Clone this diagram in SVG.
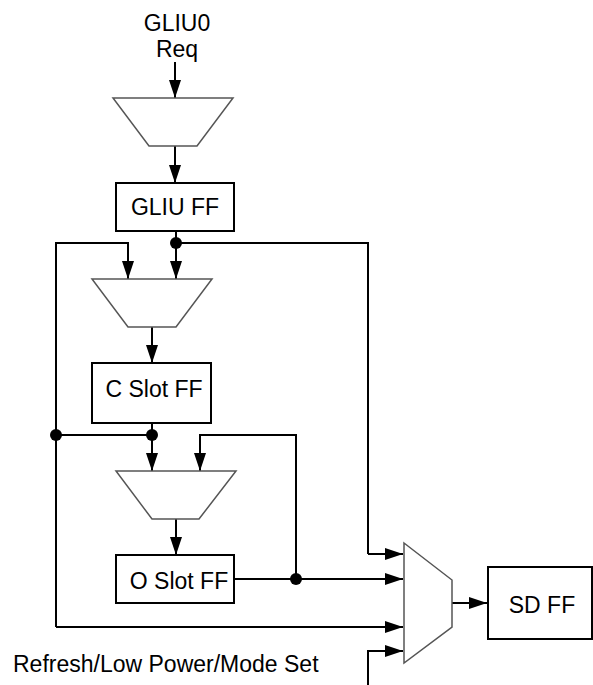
<svg xmlns="http://www.w3.org/2000/svg" width="593" height="685" viewBox="0 0 593 685">
<defs>
<marker id="arr" markerUnits="userSpaceOnUse" markerWidth="18" markerHeight="12" refX="18" refY="6" orient="auto">
<path d="M0,0 L18,6 L0,12 z" fill="#000"/>
</marker>
<style>
text{font-family:"Liberation Sans",Arial,Helvetica,sans-serif;font-size:23px;fill:#000}
.box{fill:#fff;stroke:#000;stroke-width:2}
.mux{fill:#fff;stroke:#555;stroke-width:1.5}
.w{fill:none;stroke:#000;stroke-width:2}
.a{marker-end:url(#arr)}
.dot{fill:#000}
</style>
</defs>
<rect width="593" height="685" fill="#fff"/>
<g id="connectors">
<polyline class="w a" points="175,62 175,98"/>
<polyline class="w a" points="175,146 175,183"/>
<polyline class="w a" points="176,231 176,279"/>
<polyline class="w" points="176,243 368,243 368,554"/>
<polyline class="w a" points="368,554 403,554"/>
<polyline class="w a" points="56,627 56,243 128,243 128,279"/>
<polyline class="w a" points="56,627 403,627"/>
<polyline class="w a" points="152,327 152,363"/>
<polyline class="w a" points="152,423 152,471"/>
<polyline class="w" points="56,435 152,435"/>
<polyline class="w a" points="296,579 296,435 200,435 200,471"/>
<polyline class="w a" points="176,519 176,555"/>
<polyline class="w a" points="234,579 403,579"/>
<polyline class="w a" points="368,685 368,651 403,651"/>
<polyline class="w a" points="452,603 487,603"/>
<circle class="dot" cx="176" cy="243" r="6"/>
<circle class="dot" cx="56" cy="435" r="6"/>
<circle class="dot" cx="152" cy="435" r="6"/>
<circle class="dot" cx="296" cy="579" r="6"/>
</g>
<g id="gliu0-req">
<text x="177" y="31" text-anchor="middle">GLIU0</text>
<text x="177" y="57" text-anchor="middle">Req</text>
</g>
<g id="mux1"><polygon class="mux" points="113,98 233,98 197,146 149,146"/></g>
<g id="gliu-ff">
<rect class="box" x="116" y="183" width="118" height="48"/>
<text x="175" y="215" text-anchor="middle">GLIU FF</text>
</g>
<g id="mux2"><polygon class="mux" points="92,279 212,279 176,327 128,327"/></g>
<g id="c-slot-ff">
<rect class="box" x="92" y="363" width="119" height="60"/>
<text x="154" y="397" text-anchor="middle">C Slot FF</text>
</g>
<g id="mux3"><polygon class="mux" points="116,471 236,471 199,519 152,519"/></g>
<g id="o-slot-ff">
<rect class="box" x="116" y="555" width="118" height="48"/>
<text x="179" y="589" text-anchor="middle">O Slot FF</text>
</g>
<g id="mux4"><polygon class="mux" points="404,543 452,580 452,627 404,663"/></g>
<g id="sd-ff">
<rect class="box" x="488" y="567" width="104" height="72"/>
<text x="542" y="613" text-anchor="middle">SD FF</text>
</g>
<g id="refresh-label">
<text x="13" y="672">Refresh/Low Power/Mode Set</text>
</g>
</svg>
